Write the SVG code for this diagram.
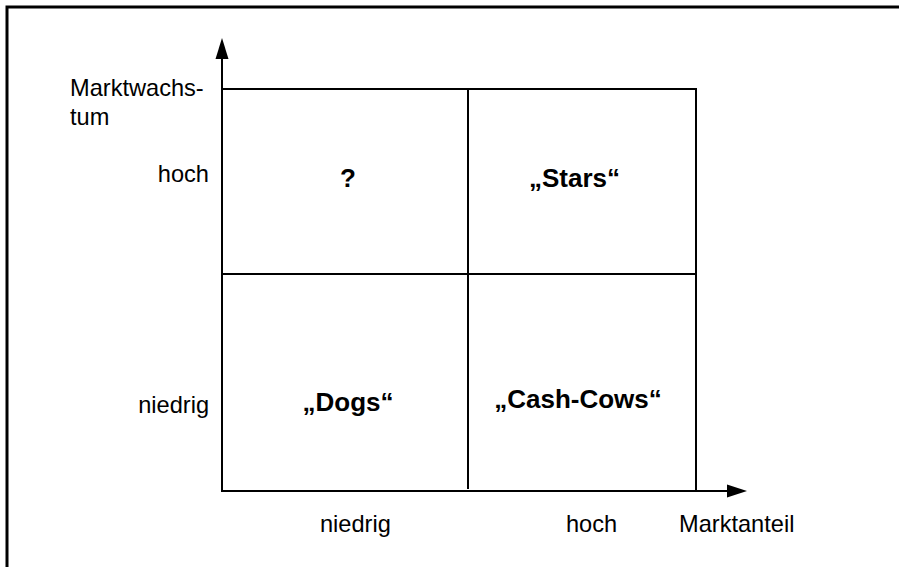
<svg xmlns="http://www.w3.org/2000/svg" width="899" height="567" viewBox="0 0 899 567">
<style>
.l{fill:none;stroke:#000;stroke-width:2}
.t{font-family:"Liberation Sans",Arial,sans-serif;font-size:23.6px;fill:#000}
.b{font-family:"Liberation Sans",Arial,sans-serif;font-size:26px;font-weight:bold;fill:#000;text-anchor:middle}
</style>
<rect width="899" height="567" fill="#fff"/>
<path d="M7,567 V7 H899" fill="none" stroke="#000" stroke-width="3"/>
<g id="connectors">
<line class="l" x1="222" y1="491" x2="222" y2="56"/>
<polygon points="222,38 215.5,59 228.5,59" fill="#000"/>
<line class="l" x1="221" y1="491" x2="730" y2="491"/>
<polygon points="747,491 727,484.5 727,497.5" fill="#000"/>
<line class="l" x1="222" y1="89" x2="697" y2="89"/>
<line class="l" x1="696" y1="88" x2="696" y2="491"/>
<line class="l" x1="468" y1="89" x2="468" y2="489"/>
<line class="l" x1="222" y1="274" x2="695" y2="274"/>
</g>
<g id="axis-y-label"><text class="t" x="70" y="96">Marktwachs-</text><text class="t" x="70" y="125">tum</text></g>
<g id="y-hoch"><text class="t" x="209" y="182" text-anchor="end">hoch</text></g>
<g id="y-niedrig"><text class="t" x="209" y="413" text-anchor="end">niedrig</text></g>
<g id="x-niedrig"><text class="t" x="320" y="532">niedrig</text></g>
<g id="x-hoch"><text class="t" x="566" y="532">hoch</text></g>
<g id="axis-x-label"><text class="t" x="679" y="532">Marktanteil</text></g>
<g id="q-question"><text class="b" x="348" y="187">?</text></g>
<g id="q-stars"><text class="b" x="574.5" y="187">„Stars“</text></g>
<g id="q-dogs"><text class="b" x="348" y="411">„Dogs“</text></g>
<g id="q-cashcows"><text class="b" x="578" y="408">„Cash-Cows“</text></g>
</svg>
